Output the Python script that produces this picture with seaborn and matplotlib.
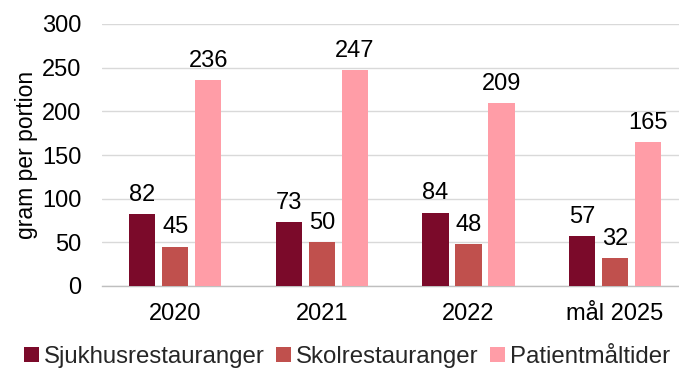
import matplotlib
matplotlib.use("Agg")
import matplotlib.pyplot as plt
import seaborn as sns
import pandas as pd

categories = ["2020", "2021", "2022", "mål 2025"]
series_names = ["Sjukhusrestauranger", "Skolrestauranger", "Patientmåltider"]
sjukhus = [82, 73, 84, 57]
skola = [45, 50, 48, 32]
patient = [236, 247, 209, 165]
colors = ["#7B0A2A", "#C0504D", "#FF9DA7"]

rows = []
for name, vals in zip(series_names, [sjukhus, skola, patient]):
    for cat, v in zip(categories, vals):
        rows.append({"kategori": cat, "serie": name, "värde": v})
df = pd.DataFrame(rows)

sns.set_theme(style="white")
plt.rcParams["font.family"] = ["Liberation Sans", "DejaVu Sans"]

fig = plt.figure(figsize=(6.79, 3.72), dpi=100)
ax = fig.add_axes([102 / 679, 86 / 372, (679 - 102) / 679, 262 / 372])

sns.barplot(data=df, x="kategori", y="värde", hue="serie", order=categories,
            hue_order=series_names, palette=colors, width=0.675, gap=0.21,
            saturation=1, ax=ax, legend=True, zorder=3, linewidth=0)

for cont in ax.containers:
    ax.bar_label(cont, fmt="%d", padding=6, fontsize=17, color="#000000")

ax.set_ylim(0, 300)
ax.set_yticks(range(0, 301, 50))
ax.set_xlim(-0.5, 3.436)
ax.yaxis.grid(True, color="#D9D9D9", linewidth=1)
ax.set_axisbelow(True)
for side in ["top", "right", "left"]:
    ax.spines[side].set_visible(False)
ax.spines["bottom"].set_color("#BFBFBF")
ax.spines["bottom"].set_linewidth(1)
ax.tick_params(axis="both", length=0, labelsize=17, colors="#000000")
ax.tick_params(axis="y", pad=15)
ax.tick_params(axis="x", pad=12)
ax.set_xlabel("")
ax.set_ylabel("gram per portion", fontsize=16.5, color="#000000", labelpad=3)

handles, labels = ax.get_legend_handles_labels()
ax.legend_.remove()
fig.legend(handles, labels, loc="center", bbox_to_anchor=(347 / 679, 1 - 357 / 372),
           ncol=3, frameon=False, fontsize=17.3, handlelength=0.6, handleheight=0.6,
           handletextpad=0.2, columnspacing=0.5, borderaxespad=0, borderpad=0)

fig.savefig("out.png", dpi=100)
